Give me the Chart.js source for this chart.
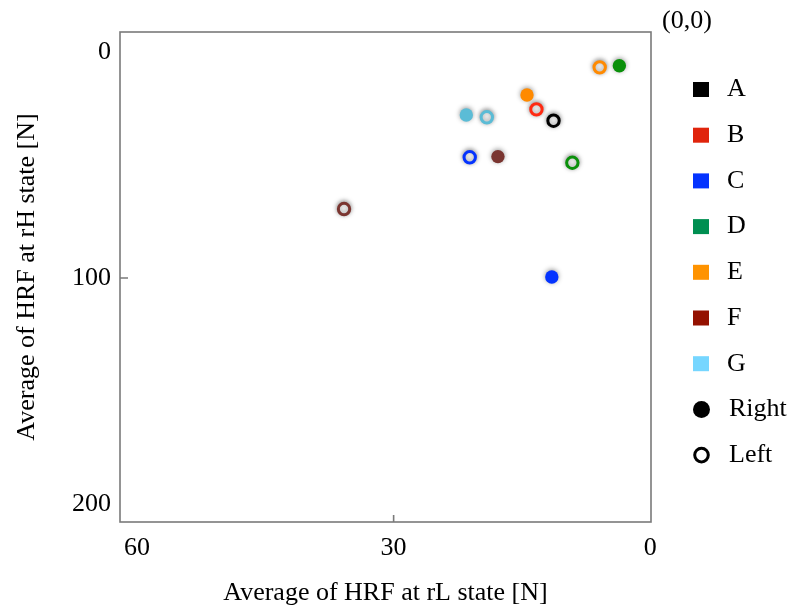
<!DOCTYPE html>
<html>
<head>
<meta charset="utf-8">
<script src="https://cdn.jsdelivr.net/npm/chart.js@4/dist/chart.umd.min.js"></script>
<style>
  html, body { margin: 0; padding: 0; background: #fff; }
  #c { display: block; }
</style>
</head>
<body>
<canvas id="c" width="793" height="609"></canvas>
<script>
// ---- data ----
const categories = ['A', 'B', 'C', 'D', 'E', 'F', 'G'];
const rightX = [null, null, 11.5, 3.6, 14.4, 17.8, 21.5];
const rightY = [null, null, 99.6, 6.1, 19.0, 46.3, 27.9];
const leftX  = [11.3, 13.3, 21.1, 9.1, 5.9, 35.8, 19.1];
const leftY  = [30.4, 25.4, 46.6, 49.0, 6.8, 69.5, 28.9];
const legendColors = ['#000000', '#e0240c', '#0433ff', '#008f51', '#ff9300', '#941100', '#76d6ff'];
const markerColors = ['#000000', '#ff2a12', '#0433ff', '#0a900a', '#ff8a00', '#7a3530', '#5bbcd6'];
const xTicks = [0, 30, 60];
const yTicks = [0, 100, 200];
const sideLabels = ['Right', 'Left'];
const xTitle = 'Average of HRF at rL state [N]';
const yTitle = 'Average of HRF at rH state [N]';
const cornerNote = '(0,0)';

const FONT = "'Liberation Serif', 'Times New Roman', serif";

function toPoints(xs, ys) {
  return xs.map((x, i) => (x === null || ys[i] === null) ? {x: null, y: null} : {x: x, y: ys[i]});
}

const shadowPlugin = {
  id: 'shadow',
  beforeDatasetsDraw(chart) {
    const ctx = chart.ctx;
    ctx.save();
    ctx.shadowColor = 'rgba(0,0,0,0.42)';
    ctx.shadowBlur = 5;
    ctx.shadowOffsetX = 0;
    ctx.shadowOffsetY = -1;
  },
  afterDatasetsDraw(chart) {
    chart.ctx.restore();
  }
};

const framePlugin = {
  id: 'frame',
  afterDraw(chart) {
    const {ctx, chartArea: a, scales} = chart;
    ctx.save();
    ctx.strokeStyle = '#7a7a7a';
    ctx.lineWidth = 1.6;
    ctx.strokeRect(a.left, a.top, a.right - a.left, a.bottom - a.top);
    // inward tick marks at interior ticks
    ctx.beginPath();
    const yp = scales.y.getPixelForValue(yTicks[1]);
    ctx.moveTo(a.left, yp); ctx.lineTo(a.left + 8, yp);
    const xp = scales.x.getPixelForValue(xTicks[1]);
    ctx.moveTo(xp, a.bottom); ctx.lineTo(xp, a.bottom - 7);
    ctx.stroke();
    ctx.restore();

    // corner note
    ctx.save();
    ctx.fillStyle = '#000';
    ctx.font = '26px ' + FONT;
    ctx.textBaseline = 'middle';
    ctx.textAlign = 'left';
    ctx.fillText(cornerNote, a.right + 11, 21);
    ctx.restore();

    // legend
    ctx.save();
    ctx.font = '26px ' + FONT;
    ctx.textBaseline = 'middle';
    ctx.textAlign = 'left';
    const lx = a.right + 50;
    let ly = 89.5;
    const step = 45.7;
    categories.forEach((c, i) => {
      ctx.fillStyle = legendColors[i];
      ctx.fillRect(lx - 8, ly - 7.5, 16, 15);
      ctx.fillStyle = '#000';
      ctx.fillText(c, lx + 26, ly);
      ly += step;
    });
    // Right (filled)
    ctx.fillStyle = '#000';
    ctx.beginPath(); ctx.arc(lx + 0.5, ly, 8.5, 0, Math.PI * 2); ctx.fill();
    ctx.fillText(sideLabels[0], lx + 28, ly);
    ly += step;
    // Left (open)
    ctx.strokeStyle = '#000';
    ctx.lineWidth = 3;
    ctx.beginPath(); ctx.arc(lx + 0.5, ly, 6.8, 0, Math.PI * 2); ctx.stroke();
    ctx.fillText(sideLabels[1], lx + 28, ly);
    ctx.restore();
  }
};

new Chart(document.getElementById('c'), {
  type: 'scatter',
  data: {
    datasets: [
      {
        label: sideLabels[0],
        data: toPoints(rightX, rightY),
        pointRadius: 6.7,
        pointBackgroundColor: markerColors,
        pointBorderColor: markerColors,
        pointBorderWidth: 0
      },
      {
        label: sideLabels[1],
        data: toPoints(leftX, leftY),
        pointRadius: 5.7,
        pointBackgroundColor: '#ffffff',
        pointBorderColor: markerColors,
        pointBorderWidth: 3
      }
    ]
  },
  options: {
    responsive: false,
    animation: false,
    devicePixelRatio: 1,
    layout: { padding: { left: 0, right: 142, top: 32, bottom: 0 } },
    plugins: {
      legend: { display: false },
      tooltip: { enabled: false }
    },
    scales: {
      x: {
        type: 'linear',
        reverse: true,
        min: -0.1,
        max: 62,
        afterBuildTicks: (s) => { s.ticks = xTicks.map(v => ({value: v})); },
        afterFit: (s) => { s.height = 87; },
        grid: { display: false, drawTicks: false },
        border: { display: false },
        ticks: {
          color: '#000',
          font: { family: FONT, size: 26 },
          padding: 11,
          maxRotation: 0,
          autoSkip: false
        },
        title: {
          display: true,
          text: xTitle,
          color: '#000',
          font: { family: FONT, size: 26 },
          padding: { top: 0, bottom: 0 }
        }
      },
      y: {
        type: 'linear',
        reverse: true,
        min: -8.85,
        max: 208,
        afterBuildTicks: (s) => { s.ticks = yTicks.map(v => ({value: v})); },
        afterFit: (s) => { s.width = 120; },
        grid: { display: false, drawTicks: false },
        border: { display: false },
        ticks: {
          color: '#000',
          font: { family: FONT, size: 26 },
          padding: 9,
          autoSkip: false
        },
        title: {
          display: true,
          text: yTitle,
          color: '#000',
          font: { family: FONT, size: 26 },
          padding: { top: 12, bottom: 0 }
        }
      }
    }
  },
  plugins: [shadowPlugin, framePlugin]
});
</script>
</body>
</html>
